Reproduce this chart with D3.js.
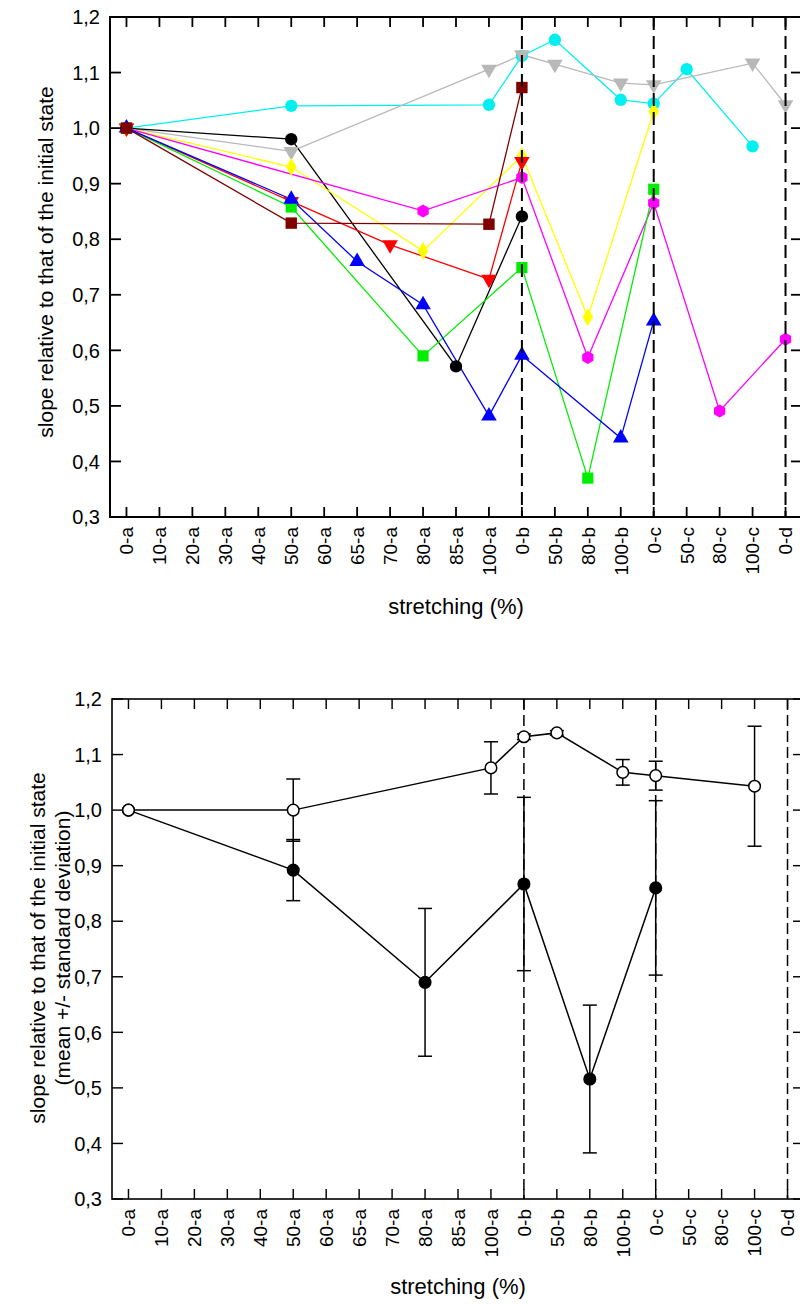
<!DOCTYPE html>
<html><head><meta charset="utf-8">
<script src="https://cdn.jsdelivr.net/npm/d3@7"></script>
<style>body{margin:0;background:#fff}svg{display:block}text{font-family:"Liberation Sans",Arial,sans-serif;fill:#000}</style>
</head><body>
<svg id="c" width="800" height="1304"></svg>
<script>
const categories = ["0-a","10-a","20-a","30-a","40-a","50-a","60-a","65-a","70-a","80-a","85-a","100-a","0-b","50-b","80-b","100-b","0-c","50-c","80-c","100-c","0-d"];
const yTicks = [0.3,0.4,0.5,0.6,0.7,0.8,0.9,1.0,1.1,1.2];
const dividers = ["0-b","0-c","0-d"];

// top chart series
const cyanX = ["0-a","50-a","100-a","0-b","50-b","100-b","0-c","50-c","100-c"];
const cyanY = [1.0,1.04,1.042,1.13,1.159,1.051,1.044,1.106,0.967];
const grayX = ["0-a","50-a","100-a","0-b","50-b","100-b","0-c","100-c","0-d"];
const grayY = [1.0,0.958,1.106,1.132,1.115,1.081,1.078,1.117,1.042];
const blackX = ["0-a","50-a","85-a","0-b"];
const blackY = [1.0,0.98,0.571,0.841];
const yellowX = ["0-a","50-a","80-a","0-b","80-b","0-c"];
const yellowY = [1.0,0.93,0.779,0.95,0.66,1.03];
const magentaX = ["0-a","80-a","0-b","80-b","0-c","80-c","0-d"];
const magentaY = [1.0,0.851,0.911,0.587,0.865,0.491,0.62];
const redX = ["0-a","50-a","70-a","100-a","0-b"];
const redY = [1.0,0.868,0.79,0.728,0.94];
const greenX = ["0-a","50-a","80-a","0-b","80-b","0-c"];
const greenY = [1.0,0.858,0.59,0.749,0.37,0.89];
const blueX = ["0-a","50-a","65-a","80-a","100-a","0-b","100-b","0-c"];
const blueY = [1.0,0.872,0.76,0.682,0.482,0.591,0.442,0.653];
const darkredX = ["0-a","50-a","100-a","0-b"];
const darkredY = [1.0,0.829,0.827,1.073];

// bottom chart series (mean +/- sd)
const openX = ["0-a","50-a","100-a","0-b","50-b","100-b","0-c","100-c"];
const openY = [1.0,1.0,1.076,1.132,1.139,1.068,1.062,1.043];
const openSD = [0,0.056,0.047,0.005,0.004,0.023,0.026,0.108];
const filledX = ["0-a","50-a","80-a","0-b","80-b","0-c"];
const filledY = [1.0,0.892,0.69,0.867,0.516,0.86];
const filledSD = [0,0.055,0.133,0.156,0.133,0.157];

const hexagon = {draw(ctx, size){const r=Math.sqrt(size/2.598);for(let i=0;i<6;i++){const a=Math.PI/2+i*Math.PI/3;const x=r*Math.cos(a),y=-r*Math.sin(a);i?ctx.lineTo(x,y):ctx.moveTo(x,y);}ctx.closePath();}};

const topSeries = [
  {x:cyanX,y:cyanY,color:"#00f0f0",sym:d3.symbolCircle,size:120,rot:0},
  {x:grayX,y:grayY,color:"#b8b8b8",sym:d3.symbolTriangle,size:105,rot:180},
  {x:blackX,y:blackY,color:"#000000",sym:d3.symbolCircle,size:120,rot:0},
  {x:yellowX,y:yellowY,color:"#ffff00",sym:d3.symbolDiamond,size:95,rot:0},
  {x:magentaX,y:magentaY,color:"#ff00ff",sym:hexagon,size:110,rot:0},
  {x:redX,y:redY,color:"#ff0000",sym:d3.symbolTriangle,size:105,rot:180},
  {x:greenX,y:greenY,color:"#00ee00",sym:d3.symbolSquare,size:125,rot:0},
  {x:blueX,y:blueY,color:"#0000ff",sym:d3.symbolTriangle,size:105,rot:0},
  {x:darkredX,y:darkredY,color:"#800000",sym:d3.symbolSquare,size:130,rot:0}
];

const svg = d3.select("#c");
const fmt = v => d3.format(".1f")(v).replace(".", ",");

function frame(g, x, y, L, R, T, B, sw) {
  g.append("rect").attr("x",L).attr("y",T).attr("width",R-L).attr("height",B-T)
    .attr("fill","none").attr("stroke","#000").attr("stroke-width",sw);
  const tk = g.append("g").attr("stroke","#000").attr("stroke-width",sw*0.9);
  categories.forEach(c=>{
    tk.append("line").attr("x1",x(c)).attr("x2",x(c)).attr("y1",T).attr("y2",T+10);
    tk.append("line").attr("x1",x(c)).attr("x2",x(c)).attr("y1",B).attr("y2",B-10);
  });
  yTicks.forEach(v=>{
    tk.append("line").attr("x1",L).attr("x2",L+11).attr("y1",y(v)).attr("y2",y(v));
    tk.append("line").attr("x1",R).attr("x2",R-11).attr("y1",y(v)).attr("y2",y(v));
  });
  g.append("g").selectAll("text").data(yTicks).join("text")
    .attr("x",L-10).attr("y",d=>y(d)).attr("dy","0.36em").attr("text-anchor","end")
    .style("font-size","20px").text(fmt);
  g.append("g").selectAll("text").data(categories).join("text")
    .attr("transform",d=>`translate(${x(d)},${B+10}) rotate(-90)`)
    .attr("dy","0.36em").attr("text-anchor","end").style("font-size","19px").text(d=>d);
}
function dividersDraw(g, x, T, B, dash, w){
  g.append("g").selectAll("line").data(dividers).join("line")
    .attr("x1",d=>x(d)).attr("x2",d=>x(d)).attr("y1",T).attr("y2",B)
    .attr("stroke","#000").attr("stroke-width",w).attr("stroke-dasharray",dash);
}

// ---- top chart
{
  const L=110,R=802,T=17,B=517;
  const x = d3.scalePoint().domain(categories).range([L,R]).padding(0.5);
  const y = d3.scaleLinear().domain([0.3,1.2]).range([B,T]);
  const g = svg.append("g");
  const line = d3.line().x(d=>x(d[0])).y(d=>y(d[1]));
  topSeries.forEach(s=>{
    const pts = s.x.map((c,i)=>[c,s.y[i]]);
    g.append("path").datum(pts).attr("d",line).attr("fill","none").attr("stroke",s.color).attr("stroke-width",1.3);
  });
  topSeries.forEach(s=>{
    const pts = s.x.map((c,i)=>[c,s.y[i]]);
    g.append("g").selectAll("path").data(pts).join("path")
      .attr("transform",d=>`translate(${x(d[0])},${y(d[1])}) rotate(${s.rot})`)
      .attr("d",d3.symbol().type(s.sym).size(s.size)).attr("fill",s.color);
  });
  dividersDraw(g, x, T, B, "13,6", 2);
  frame(g, x, y, L, R, T, B, 2);
  g.append("text").attr("transform",`translate(53,262) rotate(-90)`)
    .attr("text-anchor","middle").style("font-size","21px").text("slope relative to that of the initial state");
  g.append("text").attr("x",(L+R)/2).attr("y",614).attr("text-anchor","middle")
    .style("font-size","22px").text("stretching (%)");
}

// ---- bottom chart
{
  const L=112,R=804,T=699,B=1199;
  const x = d3.scalePoint().domain(categories).range([L,R]).padding(0.5);
  const y = d3.scaleLinear().domain([0.3,1.2]).range([B,T]);
  const g = svg.append("g");
  dividersDraw(g, x, T, B, "11,5", 1.5);
  const sets = [
    {x:filledX,y:filledY,sd:filledSD,fill:"#000"},
    {x:openX,y:openY,sd:openSD,fill:"#fff"}
  ];
  sets.forEach(s=>{
    const pts = s.x.map((c,i)=>({c,v:s.y[i],sd:s.sd[i]}));
    const eb = g.append("g").attr("stroke","#000").attr("stroke-width",1.5);
    pts.filter(p=>p.sd>0).forEach(p=>{
      const cx=x(p.c);
      eb.append("line").attr("x1",cx).attr("x2",cx).attr("y1",y(p.v-p.sd)).attr("y2",y(p.v+p.sd));
      eb.append("line").attr("x1",cx-7).attr("x2",cx+7).attr("y1",y(p.v-p.sd)).attr("y2",y(p.v-p.sd));
      eb.append("line").attr("x1",cx-7).attr("x2",cx+7).attr("y1",y(p.v+p.sd)).attr("y2",y(p.v+p.sd));
    });
    g.append("path").datum(pts).attr("d",d3.line().x(d=>x(d.c)).y(d=>y(d.v)))
      .attr("fill","none").attr("stroke","#000").attr("stroke-width",1.5);
  });
  sets.forEach(s=>{
    const pts = s.x.map((c,i)=>({c,v:s.y[i]}));
    g.append("g").selectAll("circle").data(pts).join("circle")
      .attr("cx",d=>x(d.c)).attr("cy",d=>y(d.v)).attr("r",5.8)
      .attr("fill",s.fill).attr("stroke","#000").attr("stroke-width",1.5);
  });
  frame(g, x, y, L, R, T, B, 1.6);
  g.append("text").attr("transform",`translate(45,948) rotate(-90)`)
    .attr("text-anchor","middle").style("font-size","21px").text("slope relative to that of the initial state");
  g.append("text").attr("transform",`translate(70,948) rotate(-90)`)
    .attr("text-anchor","middle").style("font-size","21px").text("(mean +/- standard deviation)");
  g.append("text").attr("x",(L+R)/2).attr("y",1294).attr("text-anchor","middle")
    .style("font-size","22px").text("stretching (%)");
}
</script>
</body></html>
